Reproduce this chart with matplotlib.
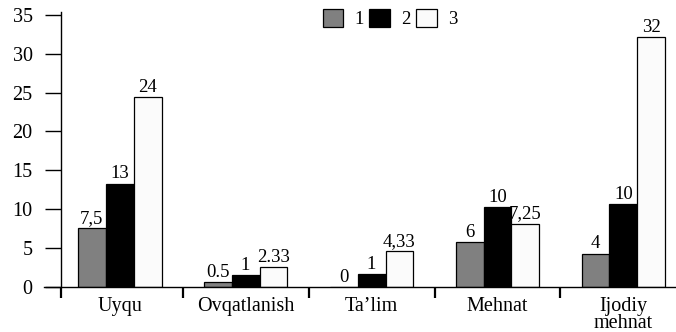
import numpy as np
import matplotlib
matplotlib.use("Agg")
import matplotlib.pyplot as plt

plt.rcParams['font.family'] = ['Liberation Serif', 'DejaVu Serif']

categories = ['Uyqu', 'Ovqatlanish', "Ta\u2019lim", 'Mehnat', 'Ijodiy\nmehnat']
series_names = ['1', '2', '3']
# bar heights as drawn in the picture
s1 = [7.6, 0.65, 0.0, 5.8, 4.3]
s2 = [13.3, 1.55, 1.65, 10.3, 10.7]
s3 = [24.4, 2.6, 4.65, 8.15, 32.1]
# value labels printed above the bars
l1 = ['7,5', '0.5', '0', '6', '4']
l2 = ['13', '1', '1', '10', '10']
l3 = ['24', '2.33', '4,33', '7,25', '32']

fig = plt.figure(figsize=(6.76, 3.32), dpi=100)
ax = fig.add_axes([61 / 676, 45 / 332, 1 - 61 / 676, 274.5 / 332])

x = np.arange(len(categories))
w = 0.222
colors = ['#808080', '#000000', '#fbfbfb']
for i, (vals, labs) in enumerate(zip([s1, s2, s3], [l1, l2, l3])):
    bars = ax.bar(x + (i - 1) * w, vals, w, color=colors[i], edgecolor='black',
                  linewidth=0.9, label=series_names[i], zorder=2)
    for b, t in zip(bars, labs):
        ax.text(b.get_x() + b.get_width() / 2, b.get_height() + 0.15, t,
                ha='center', va='bottom', fontsize=13.5)

ax.set_xlim(-0.465, 4.417)
ax.set_ylim(0, 35.3)
ax.set_yticks(range(0, 36, 5))
ax.tick_params(axis='y', direction='out', length=11.5, width=1, labelsize=14.5, pad=9)

# category separators as ticks, category names as minor-tick labels
ax.set_xticks([-0.465] + list(x[:-1] + 0.5))
ax.set_xticklabels([])
ax.tick_params(axis='x', which='major', direction='out', length=8, width=1.6)
ax.set_xticks(x, minor=True)
ax.set_xticklabels(categories, minor=True, linespacing=0.82)
ax.tick_params(axis='x', which='minor', length=0, pad=7.5, labelsize=14.5)

for s in ['top', 'right']:
    ax.spines[s].set_visible(False)
ax.spines['left'].set_linewidth(1)
ax.spines['bottom'].set_linewidth(1)
ax.spines['bottom'].set_bounds(-0.6, 4.417)

ax.legend(loc='upper center', bbox_to_anchor=(0.535, 1.075), ncol=3, frameon=False,
          fontsize=13.5, handlelength=1.1, handleheight=1.1, handletextpad=0.6,
          columnspacing=0.3)

fig.savefig('out.png', dpi=100)
